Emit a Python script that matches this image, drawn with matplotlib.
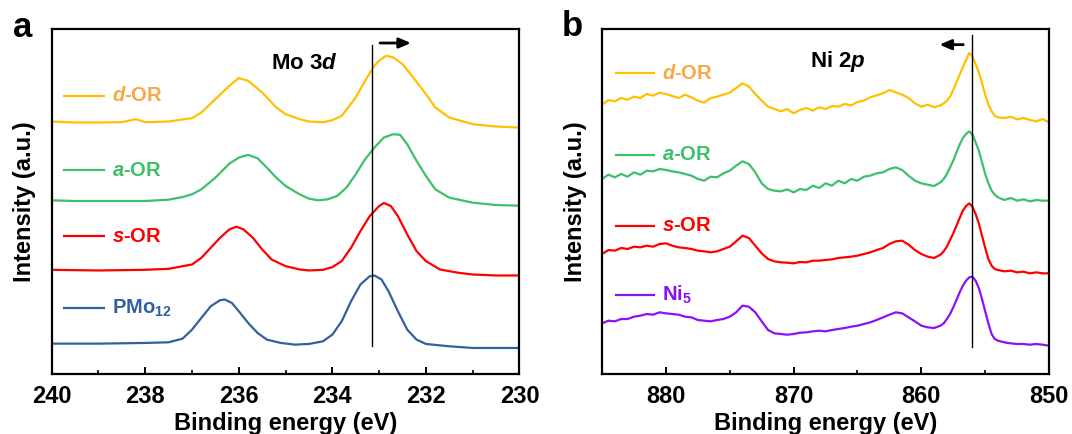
import numpy as np
import matplotlib
matplotlib.use("Agg")
import matplotlib.pyplot as plt

plt.rcParams['font.family'] = ['Liberation Sans', 'DejaVu Sans']
plt.rcParams['font.weight'] = 'bold'
plt.rcParams['axes.labelweight'] = 'bold'
plt.rcParams['mathtext.fontset'] = 'custom'
plt.rcParams['mathtext.rm'] = 'Liberation Sans:bold'
plt.rcParams['mathtext.bf'] = 'Liberation Sans:bold'
plt.rcParams['mathtext.it'] = 'Liberation Sans:italic:bold'
plt.rcParams['mathtext.bfit'] = 'Liberation Sans:italic:bold'

# ---------------- panel a: Mo 3d ----------------
e_d_a = [240, 239.5, 239, 238.5, 238.2, 238, 237.5, 237, 236.8, 236.5, 236.2, 236,
         235.8, 235.5, 235.2, 235, 234.7, 234.5, 234.2, 234, 233.8, 233.5, 233.3,
         233.1, 233, 232.85, 232.7, 232.5, 232.3, 232, 231.8, 231.5, 231, 230.5, 230]
i_d_a = [756, 753, 753, 754, 763, 754, 756, 766, 783, 823, 863, 886, 878, 843, 798,
         778, 763, 756, 754, 760, 773, 828, 878, 923, 938, 953, 948, 928, 893, 838,
         798, 768, 748, 741, 738]

e_a_a = [240, 239.5, 239, 238.5, 238, 237.5, 237.2, 237, 236.8, 236.5, 236.2, 236,
         235.8, 235.6, 235.4, 235.2, 235, 234.7, 234.5, 234.3, 234.1, 233.9, 233.7,
         233.5, 233.3, 233.1, 232.9, 232.7, 232.55, 232.4, 232.2, 232, 231.8, 231.5,
         231, 230.5, 230]
i_a_a = [520, 518, 518, 518, 518, 522, 530, 538, 553, 588, 630, 648, 656, 646, 618,
         588, 563, 538, 525, 520, 523, 533, 558, 598, 643, 678, 708, 718, 716, 688,
         638, 593, 553, 528, 513, 506, 504]

e_s_a = [240, 239, 238, 237.5, 237, 236.8, 236.6, 236.4, 236.2, 236.05, 235.9, 235.7,
         235.5, 235.3, 235, 234.7, 234.5, 234.2, 234, 233.8, 233.6, 233.4, 233.2, 233,
         232.9, 232.75, 232.6, 232.4, 232.2, 232, 231.7, 231.3, 231, 230.5, 230]
i_s_a = [312, 310, 312, 315, 328, 348, 378, 408, 433, 441, 433, 408, 373, 343, 323,
         313, 310, 312, 320, 338, 378, 428, 473, 503, 512, 503, 473, 418, 368, 338,
         313, 303, 298, 295, 295]

e_p_a = [240, 239, 238, 237.5, 237.2, 237, 236.8, 236.6, 236.4, 236.3, 236.15, 236,
         235.8, 235.6, 235.4, 235.1, 234.8, 234.5, 234.2, 234, 233.8, 233.6, 233.4,
         233.2, 233.1, 232.95, 232.8, 232.6, 232.4, 232.2, 232, 231.5, 231, 230.5, 230]
i_p_a = [91, 91, 93, 95, 106, 133, 168, 203, 221, 223, 213, 188, 153, 123, 103, 93,
         88, 90, 98, 118, 158, 218, 268, 293, 295, 283, 248, 188, 133, 103, 90, 83,
         78, 78, 78]

# ---------------- panel b: Ni 2p ----------------
e_b = np.concatenate([np.arange(885, 858.4, -0.5),
                      np.arange(858.25, 853.9, -0.25),
                      np.arange(853.5, 849.9, -0.5)])

i_d_b = [808, 822, 818, 828, 823, 832, 828, 840, 835, 844, 840, 834, 828, 838, 830,
         820, 814, 828, 832, 838, 844, 858, 872, 862, 840, 820, 802, 795, 788, 795,
         782, 792, 798, 790, 800, 795, 804, 802, 810, 806, 816, 820, 830, 836, 842,
         852, 845, 838, 828, 812, 802, 808, 800, 806,
         812, 820, 832, 852, 875, 898, 920, 942, 963, 952, 930, 905, 872, 838, 808,
         788, 775, 770,
         768, 772, 764, 768, 762, 758, 765, 755]

i_a_b = [585, 598, 590, 600, 592, 605, 598, 610, 608, 615, 612, 608, 605, 600, 595,
         585, 580, 592, 590, 602, 610, 625, 638, 630, 605, 572, 555, 550, 548, 554,
         545, 555, 552, 565, 558, 572, 565, 580, 572, 585, 580, 592, 595, 602, 605,
         615, 620, 612, 595, 580, 572, 568, 564, 575,
         585, 600, 620, 640, 665, 688, 708, 720, 728, 718, 695, 670, 635, 600, 572,
         550, 538, 530,
         522, 528, 520, 524, 518, 522, 520, 520]

i_s_b = [360, 372, 370, 378, 375, 382, 380, 385, 382, 390, 392, 385, 380, 378, 375,
         370, 368, 365, 368, 375, 382, 398, 415, 408, 385, 362, 345, 338, 335, 334,
         332, 336, 335, 340, 340, 342, 344, 348, 350, 352, 355, 360, 365, 372, 378,
         390, 398, 400, 388, 372, 360, 352, 348, 358,
         368, 382, 402, 422, 445, 468, 490, 504, 512, 502, 480, 452, 415, 378, 345,
         325, 315, 312,
         308, 310, 305, 307, 302, 305, 302, 302]

i_n_b = [152, 160, 158, 165, 165, 172, 175, 180, 178, 185, 182, 180, 178, 172, 170,
         162, 160, 158, 162, 165, 172, 185, 205, 202, 185, 158, 132, 122, 120, 118,
         120, 124, 125, 128, 130, 128, 132, 135, 138, 142, 145, 150, 155, 162, 170,
         178, 185, 182, 170, 158, 145, 140, 138, 145,
         152, 165, 180, 200, 222, 245, 265, 280, 290, 292, 280, 258, 225, 188, 152,
         120, 105, 100,
         95, 92, 90, 90, 88, 90, 88, 85]

labels_a = [r'$\mathbfit{d}$-OR', r'$\mathbfit{a}$-OR', r'$\mathbfit{s}$-OR', r'PMo$_\mathbf{12}$']
labels_b = [r'$\mathbfit{d}$-OR', r'$\mathbfit{a}$-OR', r'$\mathbfit{s}$-OR', r'Ni$_\mathbf{5}$']

c_yellow = '#FFC000'
c_green = '#3CC06A'
c_red = '#FF0000'
c_blue = '#32609E'
c_purple = '#8A12F5'
line_cols_a = [c_yellow, c_green, c_red, c_blue]
text_cols_a = ['#F7A843', c_green, c_red, c_blue]
line_cols_b = [c_yellow, c_green, c_red, c_purple]
text_cols_b = ['#F7A843', c_green, c_red, c_purple]

fig = plt.figure(figsize=(10.72, 4.34), dpi=100)
ax1 = fig.add_axes([0.0482, 0.1382, 0.4364, 0.795])
ax2 = fig.add_axes([0.5616, 0.1382, 0.4170, 0.795])

for e, i, c in zip([e_d_a, e_a_a, e_s_a, e_p_a], [i_d_a, i_a_a, i_s_a, i_p_a], line_cols_a):
    ax1.plot(e, i, color=c, lw=1.6)
for i, c in zip([i_d_b, i_a_b, i_s_b, i_n_b], line_cols_b):
    ax2.plot(e_b, i, color=c, lw=1.6)

# labels placed next to short line samples
leg_y_a = [0.806, 0.591, 0.400, 0.191]
for y, lab, lc, tc in zip(leg_y_a, labels_a, line_cols_a, text_cols_a):
    ax1.plot([0.026, 0.112], [y, y], color=lc, lw=1.6, transform=ax1.transAxes)
    ax1.text(0.130, y, lab, color=tc, fontsize=14.5, va='center', ha='left',
             transform=ax1.transAxes)
leg_y_b = [0.872, 0.636, 0.430, 0.229]
for y, lab, lc, tc in zip(leg_y_b, labels_b, line_cols_b, text_cols_b):
    ax2.plot([0.031, 0.116], [y, y], color=lc, lw=1.6, transform=ax2.transAxes)
    ax2.text(0.134, y, lab, color=tc, fontsize=14.5, va='center', ha='left',
             transform=ax2.transAxes)

# reference lines and shift arrows
ax1.plot([233.15, 233.15], [83, 986], color='k', lw=1)
ax1.annotate('', xy=(232.26, 991), xytext=(233.04, 991),
             arrowprops=dict(arrowstyle='-|>,head_length=0.7,head_width=0.3',
                             lw=2, color='k'))
ax2.plot([856.0, 856.0], [80, 1016], color='k', lw=1)
ax2.annotate('', xy=(858.8, 988), xytext=(856.5, 988),
             arrowprops=dict(arrowstyle='-|>,head_length=0.7,head_width=0.3',
                             lw=2, color='k'))

ax1.text(0.54, 0.90, r'Mo 3$\mathbfit{d}$', transform=ax1.transAxes,
         fontsize=16, ha='center', va='center')
ax2.text(0.527, 0.906, r'Ni 2$\mathbfit{p}$', transform=ax2.transAxes,
         fontsize=16, ha='center', va='center')

ax1.set_xlim(240, 230)
ax1.set_ylim(0, 1033)
ax1.set_xticks([240, 238, 236, 234, 232, 230])
ax1.set_xticks([239, 237, 235, 233, 231], minor=True)
ax2.set_xlim(885, 850)
ax2.set_ylim(0, 1035)
ax2.set_xticks([880, 870, 860, 850])
ax2.set_xticks([875, 865, 855], minor=True)

for ax in (ax1, ax2):
    ax.set_yticks([])
    for s in ax.spines.values():
        s.set_linewidth(1.6)
    ax.tick_params(axis='x', which='major', direction='in', length=5, width=1.4,
                   labelsize=17, pad=8)
    ax.tick_params(axis='x', which='minor', direction='in', length=3, width=1.2)
    ax.set_xlabel('Binding energy (eV)', fontsize=17, labelpad=3)
    ax.set_ylabel('Intensity (a.u.)', fontsize=17, labelpad=11)

fig.text(0.012, 0.915, 'a', fontsize=25, ha='left', va='baseline')
fig.text(0.524, 0.917, 'b', fontsize=25, ha='left', va='baseline')

fig.savefig('out.png', dpi=100)
